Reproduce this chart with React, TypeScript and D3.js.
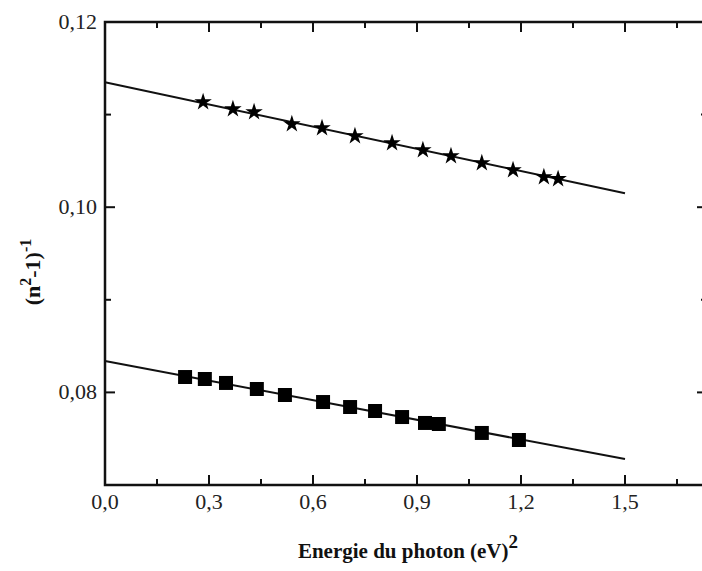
import React from "react";
import * as d3 from "d3";

const starX = [0.283, 0.369, 0.43, 0.539, 0.626, 0.721, 0.828, 0.917, 0.998, 1.087, 1.177, 1.266, 1.307];
const starY = [0.11136, 0.1106, 0.11028, 0.10898, 0.10855, 0.10769, 0.10693, 0.10618, 0.10553, 0.10477, 0.10402, 0.10326, 0.10305];
const squareX = [0.231, 0.288, 0.349, 0.438, 0.519, 0.629, 0.707, 0.779, 0.857, 0.923, 0.963, 1.087, 1.194];
const squareY = [0.08166, 0.08145, 0.08102, 0.08037, 0.07972, 0.07896, 0.07842, 0.07799, 0.07734, 0.0767, 0.07659, 0.07562, 0.07486];
const fitStar = [{ x: 0, y: 0.1135 }, { x: 1.5, y: 0.1015 }];
const fitSquare = [{ x: 0, y: 0.0834 }, { x: 1.5, y: 0.0728 }];
const xMajor = [0, 0.3, 0.6, 0.9, 1.2, 1.5];
const xMinor = [0.15, 0.45, 0.75, 1.05, 1.35, 1.65];
const yMajor = [0.08, 0.1, 0.12];
const yMinor = [0.07, 0.09, 0.11];

const W = 702, H = 571;
const L = 105, T = 22, B = 485, R = 707;

export default function App() {
  const x = d3.scaleLinear().domain([0, (R - L) / 346.67]).range([L, R]);
  const y = d3.scaleLinear().domain([0.07, 0.12]).range([B, T]);
  const line = d3.line<{ x: number; y: number }>().x(d => x(d.x)).y(d => y(d.y));
  const star = d3.symbol().type(d3.symbolStar).size(95)()!;
  const square = d3.symbol().type(d3.symbolSquare).size(196)()!;
  const fmtX = (v: number) => v.toFixed(1).replace(".", ",");
  const fmtY = (v: number) => v.toFixed(2).replace(".", ",");
  const font = "'Liberation Serif', 'DejaVu Serif', serif";
  return (
    <svg width={W} height={H} style={{ position: "absolute", left: 0, top: 0 }}>
      <rect width={W} height={H} fill="#fff" />
      <g stroke="#111" strokeWidth={2}>
        {xMajor.map(v => (
          <g key={"xm" + v}>
            <line x1={x(v)} x2={x(v)} y1={B} y2={B - 10} />
            <line x1={x(v)} x2={x(v)} y1={T} y2={T + 10} />
          </g>
        ))}
        {xMinor.map(v => (
          <g key={"xn" + v}>
            <line x1={x(v)} x2={x(v)} y1={B} y2={B - 6} />
            <line x1={x(v)} x2={x(v)} y1={T} y2={T + 6} />
          </g>
        ))}
        {yMajor.map(v => (
          <g key={"ym" + v}>
            <line x1={L} x2={L + 10} y1={y(v)} y2={y(v)} />
            <line x1={R} x2={R - 10} y1={y(v)} y2={y(v)} />
          </g>
        ))}
        {yMinor.map(v => (
          <g key={"yn" + v}>
            <line x1={L} x2={L + 6} y1={y(v)} y2={y(v)} />
            <line x1={R} x2={R - 6} y1={y(v)} y2={y(v)} />
          </g>
        ))}
      </g>
      <rect x={L} y={T} width={R - L} height={B - T} fill="none" stroke="#111" strokeWidth={2.5} />
      <path d={line(fitStar)!} fill="none" stroke="#111" strokeWidth={2} />
      <path d={line(fitSquare)!} fill="none" stroke="#111" strokeWidth={2} />
      {starX.map((v, i) => (
        <path key={"s" + i} d={star} transform={`translate(${x(v)},${y(starY[i])})`} fill="#000" />
      ))}
      {squareX.map((v, i) => (
        <path key={"q" + i} d={square} transform={`translate(${x(v)},${y(squareY[i])})`} fill="#000" />
      ))}
      <g fontFamily={font} fontSize={22} fill="#222">
        {xMajor.map(v => (
          <text key={"xl" + v} x={x(v)} y={509} textAnchor="middle">{fmtX(v)}</text>
        ))}
        {yMajor.map(v => (
          <text key={"yl" + v} x={97} y={y(v) + 7} textAnchor="end">{fmtY(v)}</text>
        ))}
      </g>
      <text x={408} y={558} textAnchor="middle" fontFamily={font} fontWeight="bold" fontSize={21} fill="#111">
        Energie du photon (eV)<tspan dy={-10} fontSize={19}>2</tspan>
      </text>
      <text transform="translate(40,272) rotate(-90)" textAnchor="middle" fontFamily={font} fontWeight="bold" fontSize={22} fill="#111">
        (n<tspan dy={-9} fontSize={16}>2</tspan><tspan dy={9}>-1)</tspan><tspan dy={-9} fontSize={16}>-1</tspan>
      </text>
    </svg>
  );
}
